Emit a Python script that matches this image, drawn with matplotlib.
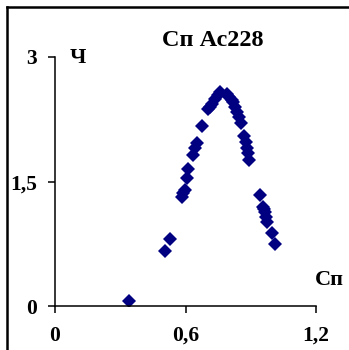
import matplotlib
matplotlib.use("Agg")
import matplotlib.pyplot as plt
from matplotlib.lines import Line2D

# Measured points (Сп vs Ч) for Ac228
sp = [0.342, 0.506, 0.529, 0.582, 0.590, 0.598, 0.605, 0.613, 0.636, 0.644,
      0.651, 0.674, 0.705, 0.713, 0.720, 0.736, 0.748, 0.759, 0.789, 0.802,
      0.812, 0.817, 0.828, 0.838, 0.847, 0.855, 0.869, 0.878, 0.884, 0.889,
      0.894, 0.943, 0.958, 0.962, 0.966, 0.970, 0.976, 0.996, 1.011]
ch = [0.07, 0.67, 0.81, 1.32, 1.36, 1.40, 1.54, 1.65, 1.82, 1.90,
      1.96, 2.17, 2.38, 2.40, 2.44, 2.50, 2.54, 2.58, 2.55, 2.52,
      2.48, 2.46, 2.40, 2.34, 2.28, 2.21, 2.05, 1.98, 1.90, 1.84,
      1.76, 1.34, 1.20, 1.17, 1.14, 1.08, 1.01, 0.88, 0.75]

xticks = [0, 0.6, 1.2]
xtick_labels = ["0", "0,6", "1,2"]
yticks = [0, 1.5, 3]
ytick_labels = ["0", "1,5", "3"]

plt.rcParams['font.family'] = ['Liberation Serif', 'DejaVu Serif']

fig = plt.figure(figsize=(3.49, 3.5), dpi=100)
ax = fig.add_axes([0.1576, 0.1243, 0.7479, 0.7129])

ax.plot(sp, ch, linestyle='none', marker='D', markersize=7.2,
        color='#000080', markeredgewidth=0)

ax.set_xlim(0, 1.2)
ax.set_ylim(0, 3)
ax.set_xticks(xticks)
ax.set_xticklabels(xtick_labels, fontsize=15.5, fontweight='bold')
ax.set_yticks(yticks)
ax.set_yticklabels(ytick_labels, fontsize=15.5, fontweight='bold')
ax.tick_params(axis='x', direction='out', length=5, width=1.1, pad=9)
ax.tick_params(axis='y', direction='out', length=5, width=1.1, pad=8)

for side in ['top', 'right']:
    ax.spines[side].set_visible(False)
for side in ['left', 'bottom']:
    ax.spines[side].set_linewidth(1.1)
ax.patch.set_visible(False)

fig.text(213/349, 1 - 40/350, "Сп Ас228", ha='center', va='center',
         fontsize=17.5, fontweight='bold')
fig.text(78/349, 1 - 58/350, "Ч", ha='center', va='center',
         fontsize=16, fontweight='bold')
fig.text(329/349, 1 - 280/350, "Сп", ha='center', va='center',
         fontsize=16, fontweight='bold')

# frame edges on the left and top
fig.add_artist(Line2D([6.5/349, 6.5/349], [0, 1 - 6.5/350], color='black', lw=1.8))
fig.add_artist(Line2D([6.5/349, 1], [1 - 6.5/350, 1 - 6.5/350], color='black', lw=1.8))

fig.savefig("out.png", dpi=100)
